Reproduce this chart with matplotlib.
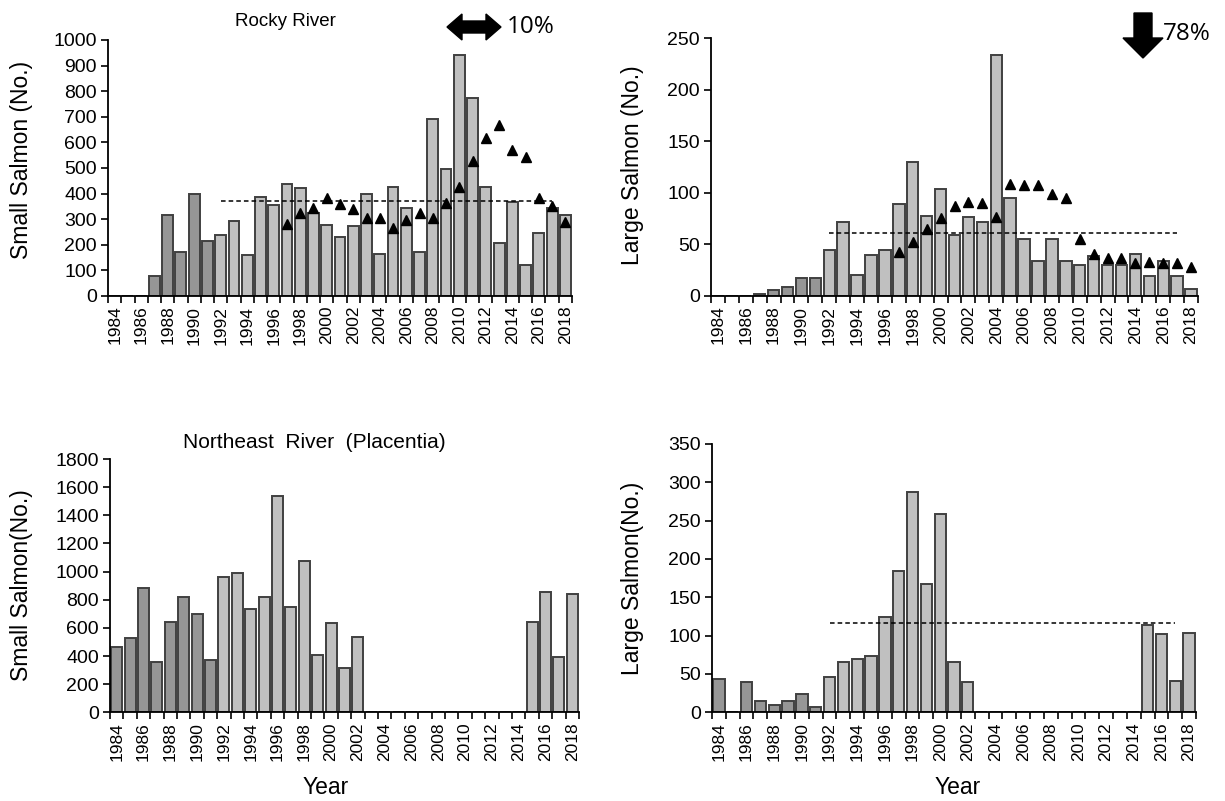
import matplotlib
matplotlib.use("Agg")
import matplotlib.pyplot as plt
from matplotlib.patches import Polygon
import numpy as np

plt.rcParams['font.family'] = ['Liberation Sans', 'DejaVu Sans']

years = list(range(1984, 2019))
tick_years = [str(y) for y in range(1984, 2019, 2)]

# Rocky River
rocky_small = [0, 0, 0, 80, 315, 170, 400, 215, 240, 292, 162, 385, 355, 436, 422, 325, 277,
               230, 273, 397, 165, 426, 345, 173, 693, 497, 940, 772, 426, 208, 367, 121,
               245, 345, 316]
rocky_small_tri = [None]*13 + [281, 325, 345, 381, 359, 339, 303, 303, 267, 297, 325, 303,
                               362, 427, 527, 616, 667, 570, 542, 381, 353, 288]
rocky_small_mean = 371

rocky_large = [0, 0, 0, 2, 6, 9, 17, 17, 45, 72, 20, 40, 45, 89, 130, 78, 104,
               59, 77, 72, 234, 95, 55, 34, 55, 34, 30, 39, 30, 30, 41, 19,
               34, 19, 7]
rocky_large_tri = [None]*13 + [43, 52, 65, 76, 87, 91, 90, 77, 109, 108, 108, 99,
                               95, 55, 41, 37, 37, 32, 33, 32, 32, 28]
rocky_large_mean = 61

# Northeast River (Placentia)
ne_small = [462, 526, 884, 358, 645, 818, 699, 370, 962, 988, 737, 818, 1538, 751, 1078,
            408, 633, 315, 538, 0, 0, 0, 0, 0, 0, 0, 0, 0, 0, 0, 0, 645, 855, 396, 841]
ne_large = [44, 0, 39, 15, 10, 15, 24, 7, 46, 66, 70, 73, 124, 184, 287, 167, 259,
            66, 39, 0, 0, 0, 0, 0, 0, 0, 0, 0, 0, 0, 0, 114, 102, 41, 104]
ne_large_mean = 116

mean_start, mean_end = 1992, 2017
dark_last_year = 1991

W, H = 1225, 801
fig = plt.figure(figsize=(W/100, H/100), dpi=100)

def px_axes(l, t, r, b):
    return fig.add_axes([l/W, 1-b/H, (r-l)/W, (b-t)/H])

DARK = '#969696'
LIGHT = '#c0c0c0'
EDGE = '#404040'

def panel(ax, vals, ymax, ystep, tri=None, mean=None):
    x = np.arange(len(years))
    colors = [DARK if y <= dark_last_year else LIGHT for y in years]
    ax.bar(x, vals, width=0.82, color=colors, edgecolor=EDGE, linewidth=1.4, zorder=2)
    if tri is not None:
        tx = [i for i, v in enumerate(tri) if v is not None]
        ty = [v for v in tri if v is not None]
        ax.plot(tx, ty, linestyle='none', marker='^', color='black', markersize=7, zorder=4)
    if mean is not None:
        ax.plot([years.index(mean_start), years.index(mean_end)], [mean, mean],
                linestyle=(0, (3, 2)), color='black', linewidth=1.1, zorder=3)
    ax.set_xlim(-0.5, len(years)-0.5)
    ax.set_ylim(0, ymax)
    ax.set_yticks(np.arange(0, ymax+1, ystep))
    ax.set_xticks(np.arange(0, len(years), 2))
    ax.set_xticklabels(tick_years, rotation=90)
    ax.set_xticks(np.arange(-0.5, len(years)), minor=True)
    ax.tick_params(axis='x', which='major', length=0, pad=7, labelsize=12.5)
    ax.tick_params(axis='x', which='minor', length=5, width=1.2, direction='out')
    ax.tick_params(axis='y', length=5, width=1.2, direction='out', labelsize=14, pad=3)
    for s in ['top', 'right']:
        ax.spines[s].set_visible(False)
    for s in ['left', 'bottom']:
        ax.spines[s].set_linewidth(1.3)

ax1 = px_axes(108, 40, 572, 296)
panel(ax1, rocky_small, 1000, 100, rocky_small_tri, rocky_small_mean)
ax2 = px_axes(711, 38.3, 1198, 296)
panel(ax2, rocky_large, 250, 50, rocky_large_tri, rocky_large_mean)
ax3 = px_axes(110, 459, 579, 712.3)
panel(ax3, ne_small, 1800, 200)
ax4 = px_axes(712, 444, 1196, 712.3)
panel(ax4, ne_large, 350, 50, None, ne_large_mean)

def ftext(x, y, s, **kw):
    fig.text(x/W, 1-y/H, s, **kw)

ftext(285, 22, 'Rocky River', ha='center', va='center', fontsize=13.5)
ftext(314, 442, 'Northeast  River  (Placentia)', ha='center', va='center', fontsize=15)
ftext(22, 160, 'Small Salmon (No.)', rotation=90, ha='center', va='center', fontsize=16.5)
ftext(632, 165, 'Large Salmon (No.)', rotation=90, ha='center', va='center', fontsize=16.5)
ftext(22, 585, 'Small Salmon(No.)', rotation=90, ha='center', va='center', fontsize=16.5)
ftext(632, 578, 'Large Salmon(No.)', rotation=90, ha='center', va='center', fontsize=16.5)
ftext(326, 787, 'Year', ha='center', va='center', fontsize=16.5)
ftext(958, 787, 'Year', ha='center', va='center', fontsize=16.5)

def fpoly(pts):
    p = Polygon([(x/W, 1-y/H) for x, y in pts], closed=True, transform=fig.transFigure,
                facecolor='black', edgecolor='black', linewidth=1)
    fig.patches.append(p)

# double-headed arrow (10%)
l, r, cy = 447, 501, 27
hl, bh, hh = 15, 6, 13
fpoly([(l, cy), (l+hl, cy-hh), (l+hl, cy-bh), (r-hl, cy-bh), (r-hl, cy-hh), (r, cy),
       (r-hl, cy+hh), (r-hl, cy+bh), (l+hl, cy+bh), (l+hl, cy+hh)])
ftext(507, 27, '10%', ha='left', va='center', fontsize=17.5, family='Open Sans')

# down arrow (78%)
cx, top, hs, tip = 1143, 13, 38, 58
bw, hw = 9, 20
fpoly([(cx-bw, top), (cx+bw, top), (cx+bw, hs), (cx+hw, hs), (cx, tip), (cx-hw, hs),
       (cx-bw, hs)])
ftext(1163, 34, '78%', ha='left', va='center', fontsize=17.5, family='Open Sans')

fig.savefig('out.png', dpi=100, facecolor='white')
